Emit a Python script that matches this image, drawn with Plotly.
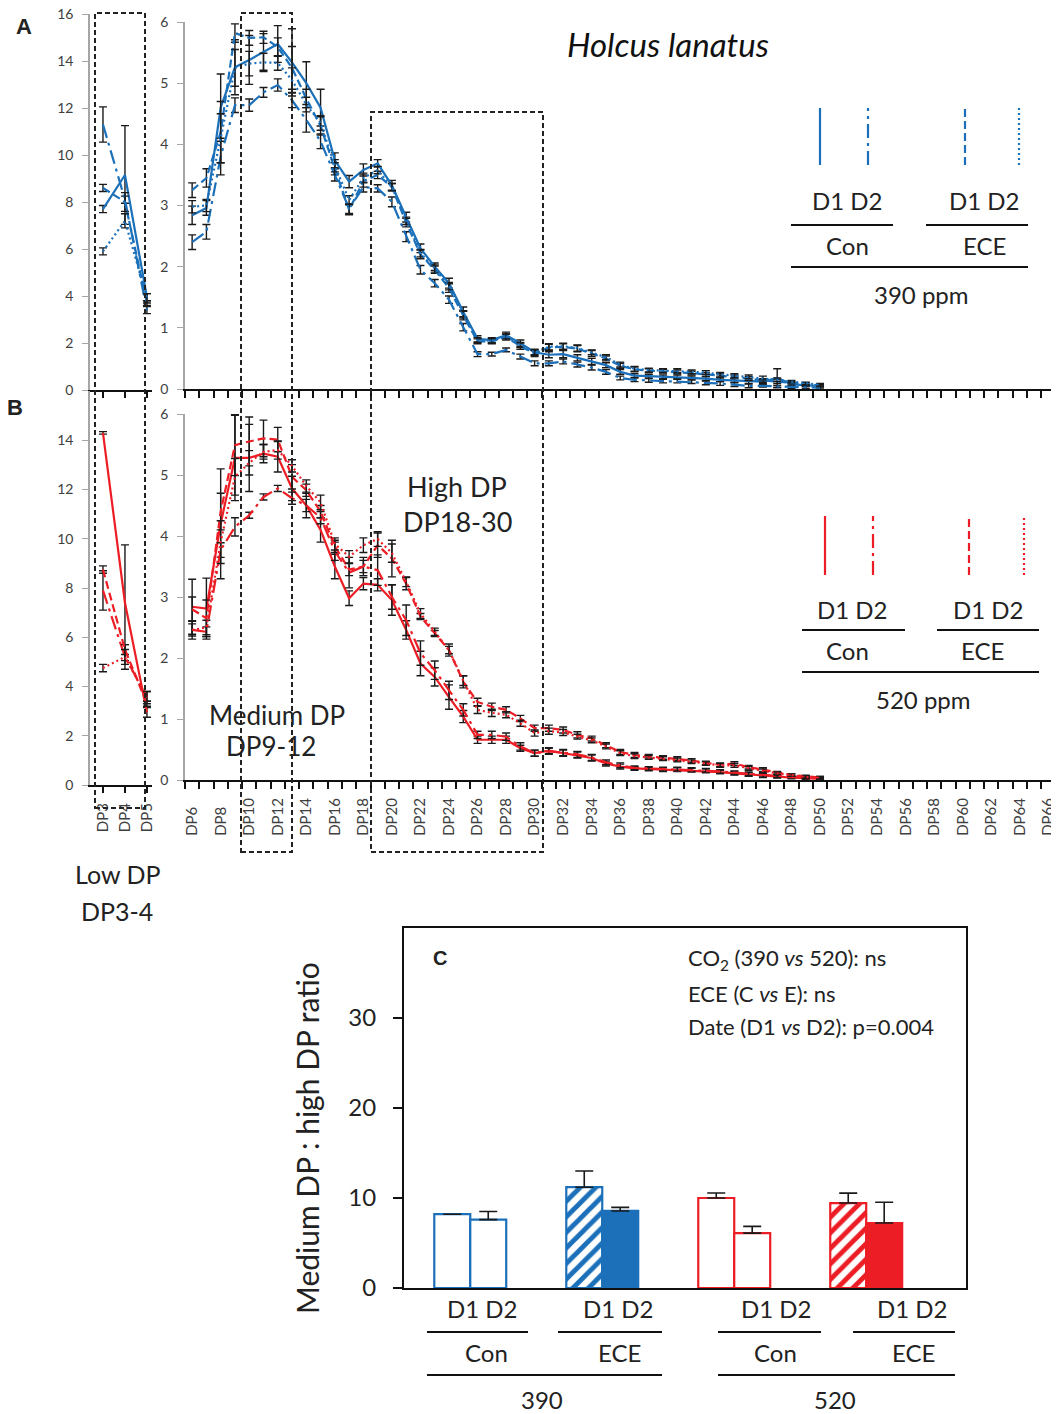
import plotly.graph_objects as go

# ---------------- DATA ----------------
dp_left = [3, 4, 5]
left_labels = ["DP3", "DP4", "DP5"]
dp_main = list(range(6, 51))
main_tick_vals = list(range(6, 67, 2))
main_tick_labels = ["DP6", "DP8", "DP10", "DP12", "DP14", "DP16", "DP18", "DP20", "DP22", "DP24",
                    "DP26", "DP28", "DP30", "DP32", "DP34", "DP36", "DP38", "DP40", "DP42", "DP44",
                    "DP46", "DP48", "DP50", "DP52", "DP54", "DP56", "DP58", "DP60", "DP62", "DP64", "DP66"]

# Panel A (390 ppm) – low DP (DP3-5)
a_left_d1con = [7.7, 9.15, 3.95]
a_left_d1con_err = [0.15, 2.1, 0.15]
a_left_d2con = [11.3, 8.1, 3.4]
a_left_d2con_err = [0.75, 0.15, 0.15]
a_left_d1ece = [8.6, 8.0, 3.7]
a_left_d1ece_err = [0.15, 0.4, 0.1]
a_left_d2ece = [5.9, 7.2, 3.9]
a_left_d2ece_err = [0.15, 0.3, 0.2]

# Panel A (390 ppm) – DP6-50
a_d1con = [2.84, 2.96, 4.6, 5.26, 5.38, 5.51, 5.64, 5.34, 5.0, 4.6, 3.74, 3.39, 3.58, 3.69, 3.33,
           2.81, 2.3, 2.0, 1.73, 1.26, 0.82, 0.8, 0.88, 0.75, 0.6, 0.56, 0.57, 0.51, 0.45, 0.39,
           0.28, 0.22, 0.21, 0.2, 0.2, 0.18, 0.17, 0.15, 0.14, 0.12, 0.12, 0.18, 0.08, 0.06, 0.05]
a_d1con_err = [0.15, 0.12, 0.55, 0.45, 0.4, 0.3, 0.3, 0.55, 0.35, 0.3, 0.12, 0.1, 0.1, 0.06, 0.08,
               0.08, 0.07, 0.06, 0.08, 0.08, 0.05, 0.04, 0.05, 0.05, 0.05, 0.05, 0.06, 0.05, 0.05, 0.04,
               0.04, 0.03, 0.03, 0.03, 0.03, 0.03, 0.03, 0.03, 0.03, 0.03, 0.03, 0.15, 0.02, 0.02, 0.02]
a_d2con = [2.4, 2.57, 3.8, 4.64, 4.64, 4.85, 4.97, 4.72, 4.4, 4.05, 3.5, 2.95, 3.3, 3.28, 3.06,
           2.49, 1.95, 1.73, 1.46, 1.01, 0.57, 0.57, 0.64, 0.53, 0.42, 0.42, 0.45, 0.4, 0.35, 0.28,
           0.18, 0.15, 0.14, 0.13, 0.13, 0.12, 0.1, 0.09, 0.07, 0.05, 0.05, 0.04, 0.03, 0.03, 0.02]
a_d2con_err = [0.12, 0.12, 0.3, 0.12, 0.1, 0.08, 0.1, 0.12, 0.2, 0.12, 0.1, 0.08, 0.08, 0.06, 0.08,
               0.08, 0.07, 0.06, 0.06, 0.06, 0.04, 0.03, 0.03, 0.04, 0.04, 0.04, 0.04, 0.04, 0.04, 0.04,
               0.03, 0.03, 0.03, 0.03, 0.03, 0.03, 0.03, 0.03, 0.03, 0.03, 0.02, 0.02, 0.02, 0.02, 0.02]
a_d1ece = [3.25, 3.45, 4.2, 5.82, 5.74, 5.75, 5.59, 5.25, 4.75, 4.3, 3.6, 2.93, 3.4, 3.5, 3.3,
           2.72, 2.2, 1.95, 1.65, 1.2, 0.78, 0.78, 0.85, 0.7, 0.58, 0.68, 0.69, 0.66, 0.58, 0.5,
           0.38, 0.32, 0.3, 0.29, 0.28, 0.26, 0.24, 0.22, 0.2, 0.17, 0.14, 0.12, 0.1, 0.08, 0.06]
a_d1ece_err = [0.12, 0.15, 0.5, 0.15, 0.12, 0.1, 0.15, 0.35, 0.15, 0.15, 0.1, 0.08, 0.1, 0.06, 0.06,
               0.07, 0.07, 0.06, 0.07, 0.07, 0.04, 0.04, 0.05, 0.05, 0.05, 0.05, 0.05, 0.05, 0.05, 0.04,
               0.04, 0.04, 0.03, 0.03, 0.03, 0.03, 0.03, 0.03, 0.03, 0.03, 0.03, 0.03, 0.02, 0.02, 0.02]
a_d2ece = [2.98, 3.0, 4.1, 5.25, 5.32, 5.34, 5.33, 5.05, 4.65, 4.35, 3.65, 3.09, 3.45, 3.58, 3.3,
           2.75, 2.22, 1.97, 1.68, 1.22, 0.8, 0.79, 0.86, 0.72, 0.6, 0.69, 0.7, 0.67, 0.6, 0.52,
           0.4, 0.33, 0.31, 0.3, 0.3, 0.28, 0.27, 0.24, 0.22, 0.2, 0.18, 0.15, 0.12, 0.09, 0.07]
a_d2ece_err = [0.1, 0.1, 0.4, 0.3, 0.2, 0.15, 0.12, 0.2, 0.12, 0.12, 0.1, 0.07, 0.08, 0.06, 0.06,
               0.06, 0.06, 0.06, 0.06, 0.06, 0.04, 0.04, 0.04, 0.04, 0.04, 0.05, 0.05, 0.05, 0.04, 0.04,
               0.04, 0.04, 0.03, 0.03, 0.03, 0.03, 0.03, 0.03, 0.03, 0.03, 0.03, 0.03, 0.02, 0.02, 0.02]

# Panel B (520 ppm) – low DP (DP3-5)
b_left_d1con = [14.3, 7.4, 2.95]
b_left_d1con_err = [0.05, 2.35, 0.2]
b_left_d2con = [7.9, 5.2, 3.6]
b_left_d2con_err = [0.8, 0.5, 0.2]
b_left_d1ece = [8.75, 5.5, 3.3]
b_left_d1ece_err = [0.15, 0.2, 0.1]
b_left_d2ece = [4.75, 5.2, 3.55]
b_left_d2ece_err = [0.15, 0.3, 0.25]

# Panel B (520 ppm) – DP6-50
b_d1con = [2.84, 2.81, 4.2, 5.28, 5.28, 5.35, 5.3, 4.78, 4.5, 4.1, 3.5, 2.98, 3.22, 3.2, 2.95,
           2.46, 1.91, 1.69, 1.36, 1.04, 0.66, 0.66, 0.66, 0.52, 0.44, 0.48, 0.44, 0.41, 0.36, 0.27,
           0.22, 0.19, 0.18, 0.17, 0.17, 0.16, 0.15, 0.13, 0.11, 0.09, 0.07, 0.05, 0.04, 0.03, 0.02]
b_d1con_err = [0.45, 0.5, 0.9, 0.7, 0.55, 0.15, 0.25, 0.2, 0.2, 0.2, 0.2, 0.12, 0.1, 0.1, 0.25,
               0.15, 0.2, 0.15, 0.2, 0.1, 0.06, 0.06, 0.06, 0.05, 0.05, 0.05, 0.05, 0.05, 0.05, 0.04,
               0.04, 0.03, 0.03, 0.03, 0.03, 0.03, 0.03, 0.03, 0.03, 0.03, 0.03, 0.02, 0.02, 0.02, 0.02]
b_d2con = [2.46, 2.43, 3.77, 4.15, 4.34, 4.64, 4.78, 4.62, 4.5, 4.3, 3.75, 3.4, 3.5, 3.44, 3.0,
           2.62, 2.08, 1.8, 1.47, 1.15, 0.74, 0.74, 0.71, 0.55, 0.44, 0.47, 0.45, 0.42, 0.37, 0.29,
           0.24, 0.2, 0.19, 0.18, 0.18, 0.17, 0.16, 0.14, 0.12, 0.1, 0.08, 0.06, 0.05, 0.04, 0.03]
b_d2con_err = [0.1, 0.08, 0.12, 0.15, 0.05, 0.05, 0.05, 0.1, 0.1, 0.1, 0.15, 0.25, 0.1, 0.25, 0.2,
               0.25, 0.2, 0.15, 0.15, 0.1, 0.06, 0.06, 0.06, 0.06, 0.05, 0.05, 0.05, 0.05, 0.05, 0.04,
               0.04, 0.03, 0.03, 0.03, 0.03, 0.03, 0.03, 0.03, 0.03, 0.03, 0.03, 0.02, 0.02, 0.02, 0.02]
b_d1ece = [2.8, 2.65, 4.4, 5.49, 5.55, 5.6, 5.58, 4.97, 4.75, 4.4, 3.83, 3.45, 3.5, 3.85, 3.63,
           3.22, 2.68, 2.4, 2.13, 1.61, 1.28, 1.2, 1.15, 1.01, 0.85, 0.85, 0.82, 0.74, 0.68, 0.57,
           0.46, 0.41, 0.39, 0.37, 0.35, 0.32, 0.28, 0.25, 0.27, 0.21, 0.17, 0.12, 0.08, 0.06, 0.04]
b_d1ece_err = [0.2, 0.3, 0.3, 0.5, 0.4, 0.3, 0.2, 0.2, 0.1, 0.1, 0.1, 0.1, 0.15, 0.2, 0.3,
               0.1, 0.05, 0.05, 0.1, 0.1, 0.06, 0.06, 0.05, 0.05, 0.05, 0.05, 0.05, 0.05, 0.04, 0.04,
               0.04, 0.04, 0.03, 0.03, 0.03, 0.03, 0.03, 0.03, 0.03, 0.03, 0.03, 0.02, 0.02, 0.02, 0.02]
b_d2ece = [2.46, 2.5, 3.9, 4.97, 5.2, 5.38, 5.41, 5.15, 4.82, 4.55, 3.87, 3.66, 3.85, 3.95, 3.72,
           3.25, 2.73, 2.43, 2.13, 1.63, 1.15, 1.1, 1.07, 0.93, 0.77, 0.8, 0.78, 0.71, 0.65, 0.55,
           0.44, 0.39, 0.37, 0.35, 0.33, 0.3, 0.27, 0.24, 0.24, 0.19, 0.15, 0.11, 0.08, 0.05, 0.04]
b_d2ece_err = [0.15, 0.12, 0.35, 0.3, 0.2, 0.12, 0.15, 0.1, 0.1, 0.12, 0.1, 0.1, 0.12, 0.12, 0.15,
               0.08, 0.08, 0.06, 0.06, 0.08, 0.06, 0.06, 0.05, 0.05, 0.05, 0.05, 0.05, 0.04, 0.04, 0.04,
               0.04, 0.04, 0.03, 0.03, 0.03, 0.03, 0.03, 0.03, 0.03, 0.03, 0.03, 0.02, 0.02, 0.02, 0.02]

# Panel C – medium DP : high DP ratio
c_groups = ["390 Con", "390 ECE", "520 Con", "520 ECE"]
c_d1 = [8.2, 11.2, 10.0, 9.44]
c_d1_err = [0.0, 1.8, 0.55, 1.1]
c_d2 = [7.6, 8.56, 6.1, 7.22]
c_d2_err = [0.9, 0.4, 0.75, 2.3]
c_yticks = [0, 10, 20, 30]

# ---------------- STYLE ----------------
PAGE_W, PAGE_H = 1059, 1414
OFF = 8  # default page body margin (top/left)
W, H = PAGE_W - OFF, PAGE_H - OFF
BLUE = "#1b70b9"
RED = "#ec1d25"
FONT = "Lato"
AXGRAY = "#a6a6a6"
TXT = "#404040"


def fx(p):
    return min(1.0, max(0.0, (p - OFF) / W))


def fy(p):
    return min(1.0, max(0.0, 1 - (p - OFF) / H))


D2CON_DASH = "14px,5px,3px,5px"
series_styles = [("D1 Con", "solid"), ("D2 Con", D2CON_DASH), ("D1 ECE", "8px,4px"), ("D2 ECE", "2px,3px")]

fig = go.Figure()


def add_lines(x, ys, errs, color, xa, ya):
    for (name, dash), y, e in zip(series_styles, ys, errs):
        assert len(y) == len(x) == len(e)
        fig.add_trace(go.Scatter(
            x=x, y=y, mode="lines", name=name, showlegend=False,
            line=dict(color=color, width=2.2, dash=dash),
            error_y=dict(type="data", array=e, color="#1a1a1a", thickness=1.4, width=4),
            xaxis=xa, yaxis=ya))


add_lines(dp_left, [a_left_d1con, a_left_d2con, a_left_d1ece, a_left_d2ece],
          [a_left_d1con_err, a_left_d2con_err, a_left_d1ece_err, a_left_d2ece_err], BLUE, "x", "y")
add_lines(dp_main, [a_d1con, a_d2con, a_d1ece, a_d2ece],
          [a_d1con_err, a_d2con_err, a_d1ece_err, a_d2ece_err], BLUE, "x2", "y2")
add_lines(dp_left, [b_left_d1con, b_left_d2con, b_left_d1ece, b_left_d2ece],
          [b_left_d1con_err, b_left_d2con_err, b_left_d1ece_err, b_left_d2ece_err], RED, "x3", "y3")
add_lines(dp_main, [b_d1con, b_d2con, b_d1ece, b_d2ece],
          [b_d1con_err, b_d2con_err, b_d1ece_err, b_d2ece_err], RED, "x4", "y4")

# Panel C bars
edge_cols = [BLUE, BLUE, RED, RED]
fig.add_trace(go.Bar(
    x=c_groups, y=c_d1, name="D1", showlegend=False, xaxis="x5", yaxis="y5",
    marker=dict(color="white", line=dict(color=edge_cols, width=2.2),
                pattern=dict(shape=["", "/", "", "/"], fgcolor=edge_cols, bgcolor="white",
                             size=11, solidity=0.45, fillmode="replace")),
    error_y=dict(type="data", symmetric=False, array=c_d1_err, arrayminus=[0, 0, 0, 0],
                 color="#1a1a1a", thickness=1.6, width=9)))
fig.add_trace(go.Bar(
    x=c_groups, y=c_d2, name="D2", showlegend=False, xaxis="x5", yaxis="y5",
    marker=dict(color=["white", BLUE, "white", RED], line=dict(color=edge_cols, width=2.2)),
    error_y=dict(type="data", symmetric=False, array=c_d2_err, arrayminus=[0, 0, 0, 0],
                 color="#1a1a1a", thickness=1.6, width=9)))

# ---------------- AXES ----------------
tickfont = dict(family=FONT, size=14, color=TXT)
yleft_common = dict(showline=True, linecolor=AXGRAY, linewidth=1.5, ticks="outside", ticklen=6,
                    tickcolor=AXGRAY, tickwidth=1.2, showgrid=False, zeroline=False,
                    tickfont=tickfont, ticklabelstandoff=6, ticklabeloverflow="allow")
x_common = dict(showline=True, linecolor="#111", linewidth=2, showgrid=False, zeroline=False,
                ticklabeloverflow="allow")

pad = "\u2007"
main_ticktext = [t + pad * (4 - len(t)) for t in main_tick_labels]

# main x axis: DP step of 14.27 px starting at 185 px
main_x0_px = 185
main_x1_px = PAGE_W
main_range = [5.5, 5.5 + (main_x1_px - main_x0_px) / 14.27]

layout = dict(
    width=W, height=H, margin=dict(l=0, r=0, t=0, b=0, pad=0, autoexpand=False),
    paper_bgcolor="white", plot_bgcolor="rgba(0,0,0,0)",
    font=dict(family=FONT, color="#222"),
    barmode="group", bargap=0.455, bargroupgap=0,
    # A left
    xaxis=dict(domain=[fx(90), fx(152)], anchor="y", range=[2.41, 5.23], tickvals=dp_left,
               ticks="outside", ticklen=6, tickcolor="#111", tickwidth=1.5, showticklabels=False, **x_common),
    yaxis=dict(domain=[fy(390), fy(14)], anchor="x", range=[0, 16], tickvals=list(range(0, 17, 2)), **yleft_common),
    # A main
    xaxis2=dict(domain=[fx(main_x0_px), fx(main_x1_px)], anchor="y2", range=main_range, tickvals=main_tick_vals,
                ticks="", showticklabels=False,
                minor=dict(ticks="outside", ticklen=7, tick0=5.5, dtick=1, tickcolor="#111", tickwidth=1.5),
                **x_common),
    yaxis2=dict(domain=[fy(389), fy(22)], anchor="x2", range=[0, 6], dtick=1, **yleft_common),
    # B left
    xaxis3=dict(domain=[fx(90), fx(152)], anchor="y3", range=[2.41, 5.23], tickvals=dp_left, ticktext=left_labels,
                ticks="outside", ticklen=6, tickcolor="#111", tickwidth=1.5, tickangle=-90,
                tickfont=dict(family=FONT, size=15, color=TXT), ticklabelstandoff=4, **x_common),
    yaxis3=dict(domain=[fy(785), fy(391)], anchor="x3", range=[0, 16], tickvals=list(range(0, 15, 2)), **yleft_common),
    # B main
    xaxis4=dict(domain=[fx(main_x0_px), fx(main_x1_px)], anchor="y4", range=main_range, tickvals=main_tick_vals,
                ticktext=main_ticktext, ticks="", tickangle=-90,
                tickfont=dict(family=FONT, size=15, color=TXT), ticklabelstandoff=10,
                minor=dict(ticks="outside", ticklen=7, tick0=5.5, dtick=1, tickcolor="#111", tickwidth=1.5),
                **x_common),
    yaxis4=dict(domain=[fy(780), fy(414)], anchor="x4", range=[0, 6], dtick=1, **yleft_common),
    # C
    xaxis5=dict(domain=[fx(404), fx(966)], anchor="y5", type="category", range=[-0.502, 3.756],
                showticklabels=False, ticks="", showline=True, mirror=True, linecolor="#111", linewidth=2,
                showgrid=False, zeroline=False),
    yaxis5=dict(domain=[fy(1288), fy(928)], anchor="x5", range=[0, 40], tickvals=c_yticks,
                ticks="outside", ticklen=9, tickcolor="#111", tickwidth=1.5, showline=True, mirror=True,
                linecolor="#111", linewidth=2, showgrid=False, zeroline=False,
                tickfont=dict(family=FONT, size=24, color="#222"), ticklabelstandoff=12),
)
fig.update_layout(**layout)

# ---------------- SHAPES ----------------
shapes = []
box_line = dict(color="#222", width=2, dash="5px,3px")
for (x0, y0, x1, y1) in [(95, 13, 145, 808), (241, 13, 292, 852), (371, 112, 543, 852)]:
    shapes.append(dict(type="rect", xref="paper", yref="paper", x0=fx(x0), x1=fx(x1), y0=fy(y1), y1=fy(y0),
                       line=box_line, layer="above"))

# legend line samples
dashes = [s[1] for s in series_styles]
for xs, (ytop, ybot), col in [((820, 868, 965, 1019), (108, 165), BLUE), ((825, 873, 969, 1024), (516, 575), RED)]:
    for xp, d in zip(xs, dashes):
        shapes.append(dict(type="line", xref="paper", yref="paper", x0=fx(xp), x1=fx(xp), y0=fy(ybot), y1=fy(ytop),
                           line=dict(color=col, width=2.2, dash=d)))


def hline(x0, x1, y, w=2):
    shapes.append(dict(type="line", xref="paper", yref="paper", x0=fx(x0), x1=fx(x1), y0=fy(y), y1=fy(y),
                       line=dict(color="#111", width=w)))


# legend A/B bracket lines
hline(791, 893, 225); hline(926, 1028, 225); hline(791, 1028, 267)
hline(802, 905, 630); hline(937, 1039, 630); hline(802, 1039, 672)
# panel C group lines
hline(427, 528, 1332); hline(558, 662, 1332); hline(718, 821, 1332); hline(853, 955, 1332)
hline(427, 662, 1375); hline(718, 955, 1375)
fig.update_layout(shapes=shapes)

# ---------------- TEXT ----------------
ann = []


def text(x, y, s, size, color="#222", bold=False, family=FONT, xanchor="center", angle=0):
    ann.append(dict(x=fx(x), y=fy(y), xref="paper", yref="paper", text=("<b>%s</b>" % s) if bold else s,
                    showarrow=False, xanchor=xanchor, yanchor="middle", textangle=angle,
                    font=dict(family=family, size=size, color=color)))


text(24, 27, "A", 22, bold=True, family="Liberation Sans")
text(15, 407, "B", 22, bold=True, family="Liberation Sans")
text(668, 44, "<i>Holcus lanatus</i>", 33, color="#111")

text(847, 200, "D1 D2", 24); text(984, 200, "D1 D2", 24)
text(847, 245, "Con", 24); text(984, 245, "ECE", 24)
text(921, 294, "390 ppm", 24)
text(852, 609, "D1 D2", 24); text(988, 609, "D1 D2", 24)
text(847, 650, "Con", 24); text(982, 650, "ECE", 24)
text(923, 700, "520 ppm", 24)

text(457, 486, "High DP", 27); text(457, 521, "DP18-30", 27)
text(277, 715, "Medium DP", 26); text(271, 746, "DP9-12", 26)
text(117, 874, "Low DP", 25); text(117, 911, "DP3-4", 25)

text(440, 958, "C", 20, bold=True, family="Liberation Sans")
text(686, 959, "CO<sub>2</sub> (390 <i>vs</i> 520): ns", 22, xanchor="left")
text(686, 993, "ECE (C <i>vs</i> E): ns", 22, xanchor="left")
text(686, 1026, "Date (D1 <i>vs</i> D2): p=0.004", 22, xanchor="left")
text(307, 1138, "Medium DP : high DP ratio", 30, angle=-90)

for xc in (482, 618, 776, 912):
    text(xc, 1308, "D1 D2", 24)
text(486, 1352, "Con", 24); text(619, 1352, "ECE", 24)
text(775, 1352, "Con", 24); text(913, 1352, "ECE", 24)
text(542, 1399, "390", 24); text(835, 1399, "520", 24)

fig.update_layout(annotations=ann)

fig.write_html("out.html")
